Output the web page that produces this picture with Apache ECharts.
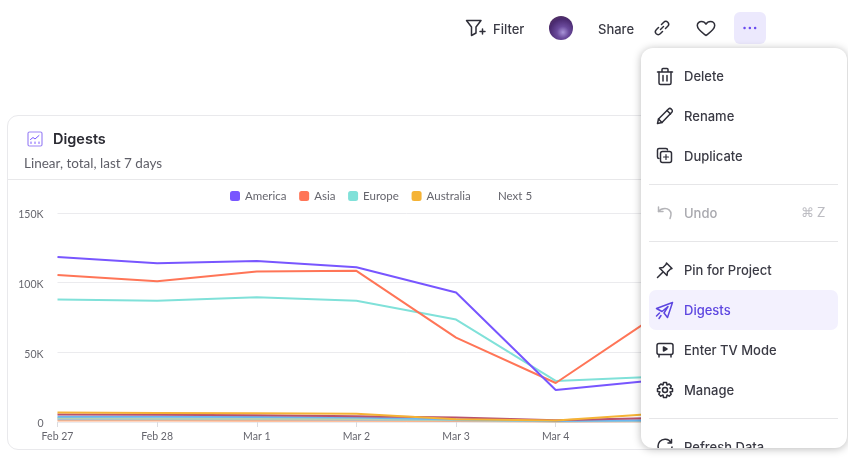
<!DOCTYPE html>
<html>
<head>
    <meta charset="utf-8">
    <title>Digests</title>
    <script src="https://cdn.jsdelivr.net/npm/echarts@6/dist/echarts.min.js"></script>
    <style>
        html, body {
            width: 848px;
            height: 471px;
            margin: 0;
            overflow: hidden;
            background: #fff;
            font-family: Lato, "Open Sans", sans-serif;
            color: #2e2e38;
        }

        #card {
            position: absolute;
            left: 7px;
            top: 115px;
            width: 759px;
            height: 335px;
            box-sizing: border-box;
            border: 1px solid #e9e9ec;
            border-radius: 11px;
        }

        #divider {
            position: absolute;
            left: 8px;
            top: 179px;
            width: 758px;
            height: 1px;
            background: #e8e8ea;
        }

        #main {
            position: absolute;
            left: 0;
            top: 0;
            width: 848px;
            height: 471px;
        }

        .abs {
            position: absolute;
            white-space: nowrap;
        }

        .top-text {
            font-family: Inter, sans-serif;
            font-size: 13px;
            font-weight: 500;
            color: #3a3a44;
            top: 20px;
            line-height: 18px;
        }

        svg {
            position: absolute;
            fill: none;
            stroke: #2e2e38;
            stroke-width: 1.5;
            stroke-linecap: round;
            stroke-linejoin: round;
        }

        #menu {
            position: absolute;
            left: 641px;
            top: 48px;
            width: 206px;
            height: 400px;
            overflow: hidden;
            background: #fff;
            border-radius: 12px;
            box-shadow: 0 1px 8px rgba(0, 0, 0, .28);
        }

        #menu .item {
            position: absolute;
            left: 43px;
            font-family: Inter, sans-serif;
            font-size: 13px;
            font-weight: 500;
            line-height: 18px;
            color: #3a3a44;
            white-space: nowrap;
        }

        #menu .sep {
            position: absolute;
            left: 8px;
            width: 189px;
            height: 1px;
            background: #e6e6e8;
        }
    </style>
</head>
<body>
<div id="card"></div>
<div id="divider"></div>
<div id="main"></div>

<svg style="left:27px;top:131px" width="16" height="16" viewBox="0 0 16 16">
    <rect x="1" y="1" width="14" height="14" rx="1.5" stroke="#9d86f5" stroke-width="1.2"/>
    <path d="M3.5 8.5L6 6.5L8 8L12 4.5" stroke="#7856ff" stroke-width="1"/>
    <path d="M4 12.5V11M8 12.5V11M12 12.5V11" stroke="#7856ff" stroke-width="1"/>
</svg>
<div class="abs" style="left:53px;top:129px;font-family:Inter,sans-serif;font-size:14.5px;font-weight:600;line-height:20px;color:#2b2b33">Digests</div>
<div class="abs" style="left:24px;top:154px;font-size:13.5px;line-height:18px;color:#5f5f68">Linear, total, last 7 days</div>

<svg style="left:465px;top:19px" width="22" height="18" viewBox="0 0 22 18">
    <path d="M1.5 1.5H16L11 8V14L6.5 16.5V8Z"/>
    <path d="M15 12.5H20M17.5 10V15"/>
</svg>
<div class="abs top-text" style="left:493px">Filter</div>
<div class="abs" style="left:549px;top:16px;width:24px;height:24px;border-radius:50%;background:radial-gradient(circle at 58% 68%, #a994d8 0, #6a4a9c 28%, #4a2a70 62%, #5c3a52 100%)"></div>
<div class="abs top-text" style="left:598px">Share</div>
<svg style="left:654px;top:20px" width="16" height="16" viewBox="0 0 16 16">
    <path d="M6.5 9.5L9.5 6.5"/>
    <path d="M7.5 4.5L9.5 2.5C10.8 1.2 12.7 1.2 13.8 2.2C14.9 3.3 14.8 5.2 13.5 6.5L11.5 8.5"/>
    <path d="M8.5 11.5L6.5 13.5C5.2 14.8 3.3 14.8 2.2 13.8C1.1 12.7 1.2 10.8 2.5 9.5L4.5 7.5"/>
</svg>
<svg style="left:696px;top:20px" width="20" height="17" viewBox="0 0 20 17">
    <path d="M10 15.5C6 12.5 1.3 9.5 1.3 5.6C1.3 3.2 3.2 1.4 5.5 1.4C7.4 1.4 9 2.4 10 4.2C11 2.4 12.6 1.4 14.5 1.4C16.8 1.4 18.7 3.2 18.7 5.6C18.7 9.5 14 12.5 10 15.5Z"/>
</svg>
<div class="abs" style="left:734px;top:12px;width:32px;height:32px;border-radius:6px;background:#ece9fd"></div>
<svg style="left:742px;top:26px" width="16" height="4" viewBox="0 0 16 4" >
    <path d="M2.5 2H2.6M7.8 2H7.9M13.1 2H13.2" stroke="#6a4cf0" stroke-width="2.4"/>
</svg>

<div id="menu">
    <svg style="left:15px;top:19px" width="18" height="19" viewBox="0 0 18 19">
        <path d="M1.5 5H16.5M6 5V2.5C6 2 6.4 1.5 7 1.5H11C11.6 1.5 12 2 12 2.5V5"/>
        <path d="M3 5V16C3 17 3.7 17.5 4.5 17.5H13.5C14.3 17.5 15 17 15 16V5M7 8.5V14M11 8.5V14"/>
    </svg>
    <div class="item" style="top:19px">Delete</div>

    <svg style="left:15px;top:59px" width="18" height="18" viewBox="0 0 18 18">
        <path d="M1.5 16.5L2.5 12L12.5 2C13.3 1.2 14.5 1.2 15.5 2.2C16.5 3.2 16.5 4.5 15.8 5.2L6 15.5Z"/>
        <path d="M11 3.5L14.5 7M2.5 12L6 15.5"/>
    </svg>
    <div class="item" style="top:59px">Rename</div>

    <svg style="left:15px;top:99px" width="17" height="17" viewBox="0 0 17 17">
        <path d="M3 11.5C2 11.5 1.5 11 1.5 10V3C1.5 2 2 1.5 3 1.5H10C11 1.5 11.5 2 11.5 3"/>
        <rect x="4.5" y="4.5" width="11" height="11" rx="2"/>
        <path d="M10 7.5V12.5M7.5 10H12.5" stroke-width="1.2"/>
    </svg>
    <div class="item" style="top:99px">Duplicate</div>
    <div class="sep" style="top:136px"></div>

    <svg style="left:16px;top:157px;stroke:#b4b4b8" width="16" height="15" viewBox="0 0 16 15">
        <path d="M1.5 2V6.5H6"/>
        <path d="M1.5 6.5C3 4.5 5 3.5 8 3.5C11.5 3.5 14 6 14 9C14 10.8 13.5 12 13 13.5"/>
    </svg>
    <div class="item" style="top:156px;color:#a8a8ae">Undo</div>
    <div class="abs" style="left:160px;top:155px;font-size:13px;line-height:18px;color:#bcbcc2">⌘ Z</div>
    <div class="sep" style="top:193px"></div>

    <svg style="left:15px;top:213px" width="18" height="18" viewBox="0 0 18 18">
        <path d="M1.5 16.5L6.5 11.5"/>
        <path d="M10.5 2L16 7.5L14.5 8L11.5 11L11 14.5L3.5 7L7 6.5L10 3.5Z"/>
    </svg>
    <div class="item" style="top:213px">Pin for Project</div>

    <div class="abs" style="left:8px;top:242px;width:189px;height:40px;border-radius:7px;background:#f3f1fe"></div>
    <svg style="left:14px;top:253px;stroke:#5d46e0" width="19" height="19" viewBox="0 0 19 19">
        <path d="M17.5 1.5L1.5 7.5L7 10.5L13 5.5L9 12L12.5 16.5Z"/>
        <path d="M4.5 12L1.5 15M6 14.5L4 17.5"/>
    </svg>
    <div class="item" style="top:253px;color:#5d46e0">Digests</div>

    <svg style="left:15px;top:294px" width="18" height="17" viewBox="0 0 18 17">
        <rect x="1" y="1.5" width="16" height="11" rx="2"/>
        <path d="M3 12.5V15M15 12.5V15"/>
        <path d="M7.5 5L11 7L7.5 9Z" fill="#2e2e38"/>
    </svg>
    <div class="item" style="top:293px">Enter TV Mode</div>

    <svg style="left:15px;top:333px" width="18" height="18" viewBox="0 0 18 18">
        <circle cx="9" cy="9" r="2.5"/>
        <path d="M7.5 1.5H10.5L11 4L13.2 3L15.3 5.1L14 7.2L16.5 7.7V10.5L14 11L15.2 13.2L13.2 15.2L11 14L10.5 16.5H7.5L7 14L4.8 15.2L2.8 13.2L4 11L1.5 10.5V7.7L4 7.2L2.7 5.1L4.8 3L7 4Z"/>
    </svg>
    <div class="item" style="top:333px">Manage</div>
    <div class="sep" style="top:370px"></div>

    <svg style="left:15px;top:390px" width="18" height="18" viewBox="0 0 18 18">
        <path d="M15 4.5A7 7 0 1 0 16 9M15.5 1.5V5H12"/>
    </svg>
    <div class="item" style="top:390px">Refresh Data</div>
</div>

<script type="text/javascript">
    var categories = ['Feb 27', 'Feb 28', 'Mar 1', 'Mar 2', 'Mar 3', 'Mar 4', 'Mar 5', 'Mar 6'];
    var yTicks = [0, 50000, 100000, 150000];

    // values, anything past Mar 5 sits behind the menu
    var america = [118500, 114000, 115500, 111000, 93000, 23000, 30000];
    var asia = [105500, 101000, 108000, 108500, 60500, 28000, 76000];
    var europe = [88000, 87000, 89500, 87000, 73500, 29500, 32500];
    var australia = [6800, 6500, 6300, 6000, 2000, 1000, 6000];
    var nextA = [5400, 5200, 4800, 4200, 3200, 1200, 2800];
    var nextB = [3700, 3700, 3500, 3300, 1800, 800, 1200];
    var nextC = [2800, 2600, 2400, 2200, 1400, 600, 1000];
    var nextD = [2000, 1900, 1900, 1700, 1200, 500, 800];
    var nextE = [1000, 1000, 900, 900, 700, 300, 500];

    var legendNames = ['America', 'Asia', 'Europe', 'Australia'];

    function line(name, data, color) {
        return {
            name: name,
            type: 'line',
            data: data,
            symbol: 'none',
            silent: true,
            animation: false,
            lineStyle: {color: color, width: 2},
            itemStyle: {color: color}
        };
    }

    var myChart = echarts.init(document.getElementById('main'));

    myChart.setOption({
        animation: false,
        textStyle: {fontFamily: 'Lato, "Open Sans", sans-serif'},
        grid: {left: 57.5, right: 93, top: 213, height: 209},
        legend: {
            data: legendNames,
            left: 225,
            top: 185,
            icon: 'roundRect',
            itemWidth: 10,
            itemHeight: 10,
            itemGap: 12.7,
            selectedMode: false,
            textStyle: {color: '#66666e', fontSize: 11.5}
        },
        graphic: [{
            type: 'text',
            left: 498,
            top: 190,
            style: {text: 'Next 5', fill: '#66666e', fontSize: 11.5, fontFamily: 'Lato, "Open Sans", sans-serif'}
        }],
        xAxis: {
            type: 'category',
            data: categories,
            boundaryGap: false,
            axisLine: {show: false},
            axisTick: {show: true, length: 5, lineStyle: {color: '#dcdce0'}},
            axisLabel: {color: '#66666e', fontSize: 10.5, margin: 9, showMinLabel: true}
        },
        yAxis: {
            type: 'value',
            min: yTicks[0],
            max: yTicks[3],
            interval: yTicks[1],
            axisLine: {show: false},
            axisTick: {show: false},
            splitLine: {lineStyle: {color: '#ebebee'}},
            axisLabel: {
                color: '#66666e',
                fontSize: 10.5,
                margin: 14,
                verticalAlign: 'top',
                lineHeight: 4,
                formatter: function (v) {
                    return v === 0 ? '0' : (v / 1000) + 'K';
                }
            }
        },
        series: [
            line('Next E', nextE, '#ffae80'),
            line('Next D', nextD, '#a9bccf'),
            line('Next C', nextC, '#b5d4b0'),
            line('Next B', nextB, '#6cb7f0'),
            line('Next A', nextA, '#b8526e'),
            line('Australia', australia, '#f5b335'),
            line('Europe', europe, '#80e1d9'),
            line('Asia', asia, '#ff7557'),
            line('America', america, '#7856ff')
        ]
    });
</script>
</body>
</html>
